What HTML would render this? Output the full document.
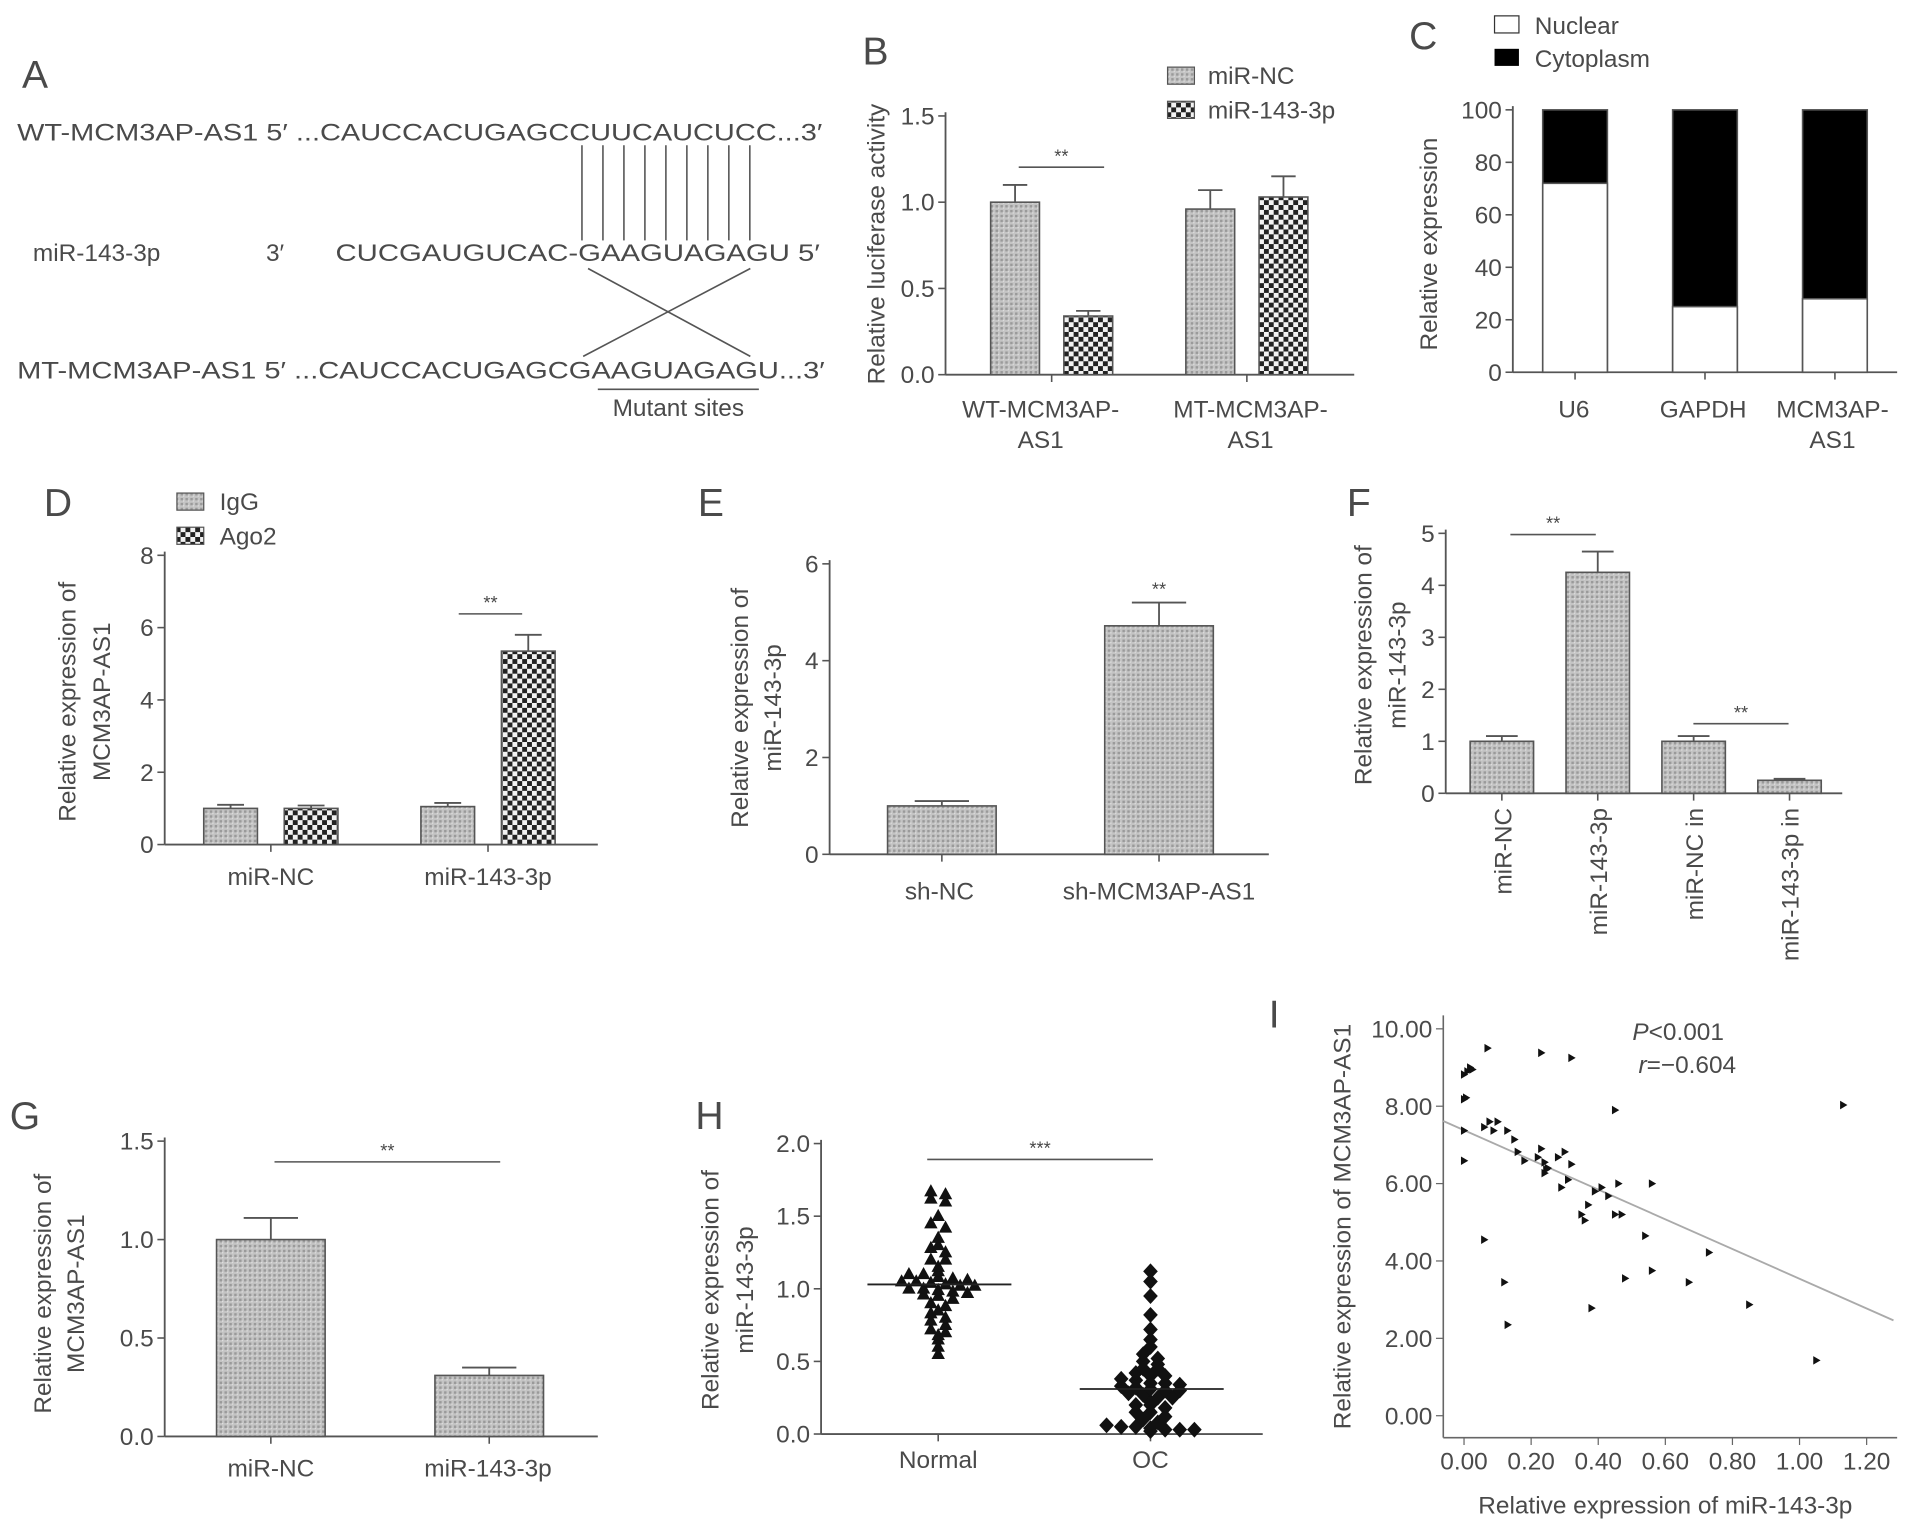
<!DOCTYPE html>
<html><head><meta charset="utf-8"><style>
html,body{margin:0;padding:0;background:#fff;}
svg{display:block;font-family:"Liberation Sans",sans-serif;}
text{fill:#4a4a4a;}
</style></head><body>
<svg id="fig" width="1913" height="1528" viewBox="0 0 1568 1252" preserveAspectRatio="none" xmlns="http://www.w3.org/2000/svg">
<defs>
<pattern id="stip" width="4" height="4" patternUnits="userSpaceOnUse"><rect width="4" height="4" fill="#c4c4c4"/><rect width="2" height="2" fill="#9a9a9a"/><rect x="2" y="2" width="1" height="1" fill="#e0e0e0"/></pattern>
<pattern id="check" width="8" height="8" patternUnits="userSpaceOnUse"><rect width="8" height="8" fill="#f2f2f2"/><rect width="4" height="4" fill="#222"/><rect x="4" y="4" width="4" height="4" fill="#222"/></pattern>
</defs>

<g font-size="20">
<text x="18" y="72" font-size="32">A</text>
<text x="14" y="115" textLength="660" lengthAdjust="spacingAndGlyphs">WT-MCM3AP-AS1 5′ ...CAUCCACUGAGCCUUCAUCUCC...3′</text>
<text x="27" y="214">miR-143-3p</text>
<text x="218" y="214">3′</text>
<text x="275" y="214" textLength="397" lengthAdjust="spacingAndGlyphs">CUCGAUGUCAC-GAAGUAGAGU  5′</text>
<text x="14" y="310" textLength="662" lengthAdjust="spacingAndGlyphs">MT-MCM3AP-AS1 5′ ...CAUCCACUGAGCGAAGUAGAGU...3′</text>
<g id="pairlines" stroke="#555" stroke-width="1.3"></g>
<line x1="482" y1="220" x2="615" y2="292" stroke="#555" stroke-width="1.3"/>
<line x1="615" y1="220" x2="478" y2="292" stroke="#555" stroke-width="1.3"/>
<line x1="490" y1="319" x2="622" y2="319" stroke="#555" stroke-width="1.3"/>
<text x="556" y="341" text-anchor="middle">Mutant sites</text>
</g>
<g id="charts"></g>

<g font-size="20">
<text x="707" y="53" font-size="32">B</text>
<rect x="957" y="55" width="22" height="14" fill="url(#stip)" stroke="#555"/>
<text x="990" y="69">miR-NC</text>
<rect x="957" y="83" width="22" height="14" fill="url(#check)" stroke="#555"/>
<text x="990" y="97">miR-143-3p</text>
<text transform="translate(725,200) rotate(-90)" text-anchor="middle">Relative luciferase activity</text>
<text x="853" y="342" text-anchor="middle">WT-MCM3AP-</text><text x="853" y="367" text-anchor="middle">AS1</text>
<text x="1025" y="342" text-anchor="middle">MT-MCM3AP-</text><text x="1025" y="367" text-anchor="middle">AS1</text>

<text x="1155" y="40" font-size="32">C</text>
<rect x="1225" y="13" width="20" height="14" fill="#fff" stroke="#333"/>
<text x="1258" y="28">Nuclear</text>
<rect x="1225" y="40" width="20" height="14" fill="#000"/>
<text x="1258" y="55">Cytoplasm</text>
<text transform="translate(1178,200) rotate(-90)" text-anchor="middle">Relative expression</text>
<text x="1290" y="342" text-anchor="middle">U6</text><text x="1396" y="342" text-anchor="middle">GAPDH</text>
<text x="1502" y="342" text-anchor="middle">MCM3AP-</text><text x="1502" y="367" text-anchor="middle">AS1</text>

<text x="36" y="423" font-size="32">D</text>
<rect x="145" y="404" width="22" height="14" fill="url(#stip)" stroke="#555"/><text x="180" y="418">IgG</text>
<rect x="145" y="432" width="22" height="14" fill="url(#check)" stroke="#555"/><text x="180" y="446">Ago2</text>
<text transform="translate(62,575) rotate(-90)" text-anchor="middle">Relative expression of</text>
<text transform="translate(90,575) rotate(-90)" text-anchor="middle">MCM3AP-AS1</text>
<text x="222" y="725" text-anchor="middle">miR-NC</text><text x="400" y="725" text-anchor="middle">miR-143-3p</text>

<text x="572" y="423" font-size="32">E</text>
<text transform="translate(613,580) rotate(-90)" text-anchor="middle">Relative expression of</text>
<text transform="translate(640,580) rotate(-90)" text-anchor="middle">miR-143-3p</text>
<text x="770" y="737" text-anchor="middle">sh-NC</text><text x="950" y="737" text-anchor="middle">sh-MCM3AP-AS1</text>

<text x="1104" y="423" font-size="32">F</text>
<text transform="translate(1124,545) rotate(-90)" text-anchor="middle">Relative expression of</text>
<text transform="translate(1152,545) rotate(-90)" text-anchor="middle">miR-143-3p</text>
<text transform="translate(1239,662) rotate(-90)" text-anchor="end">miR-NC</text>
<text transform="translate(1317,662) rotate(-90)" text-anchor="end">miR-143-3p</text>
<text transform="translate(1396,662) rotate(-90)" text-anchor="end">miR-NC in</text>
<text transform="translate(1474,662) rotate(-90)" text-anchor="end">miR-143-3p in</text>

<text x="8" y="925" font-size="32">G</text>
<text transform="translate(42,1060) rotate(-90)" text-anchor="middle">Relative expression of</text>
<text transform="translate(69,1060) rotate(-90)" text-anchor="middle">MCM3AP-AS1</text>
<text x="222" y="1210" text-anchor="middle">miR-NC</text><text x="400" y="1210" text-anchor="middle">miR-143-3p</text>

<text x="570" y="925" font-size="32">H</text>
<text transform="translate(589,1057) rotate(-90)" text-anchor="middle">Relative expression of</text>
<text transform="translate(617,1057) rotate(-90)" text-anchor="middle">miR-143-3p</text>
<text x="769" y="1203" text-anchor="middle">Normal</text><text x="943" y="1203" text-anchor="middle">OC</text>

<text x="1040" y="842" font-size="32">I</text>
<text transform="translate(1107,1005) rotate(-90)" text-anchor="middle">Relative expression of MCM3AP-AS1</text>
<text x="1365" y="1240" text-anchor="middle">Relative expression of miR-143-3p</text>
<text x="1338" y="852"><tspan font-style="italic">P</tspan>&lt;0.001</text>
<text x="1343" y="879"><tspan font-style="italic">r</tspan>=−0.604</text>
</g>
</svg>
<script>
const bCats = ['WT-MCM3AP-AS1','MT-MCM3AP-AS1'];
const bNC = [1.0, 0.96], bNCerr = [0.10, 0.11];
const b143 = [0.34, 1.03], b143err = [0.03, 0.12];
const bTicks = [0, 0.5, 1.0, 1.5];
const cCats = ['U6','GAPDH','MCM3AP-AS1'];
const cNuclear = [72, 25, 28];
const cTicks = [0, 20, 40, 60, 80, 100];
const dCats = ['miR-NC','miR-143-3p'];
const dIgG = [1.0, 1.05], dIgGerr = [0.1, 0.1];
const dAgo2 = [1.0, 5.35], dAgo2err = [0.08, 0.45];
const dTicks = [0, 2, 4, 6, 8];
const eCats = ['sh-NC','sh-MCM3AP-AS1'];
const eVals = [1.0, 4.72], eErr = [0.1, 0.48];
const eTicks = [0, 2, 4, 6];
const fCats = ['miR-NC','miR-143-3p','miR-NC in','miR-143-3p in'];
const fVals = [1.0, 4.25, 1.0, 0.25], fErr = [0.1, 0.4, 0.1, 0.03];
const fTicks = [0, 1, 2, 3, 4, 5];
const gCats = ['miR-NC','miR-143-3p'];
const gVals = [1.0, 0.31], gErr = [0.11, 0.04];
const gTicks = ['0.0','0.5','1.0','1.5'];
const hNormal = [1.67,1.65,1.62,1.6,1.5,1.45,1.42,1.35,1.3,1.28,1.25,1.2,1.2,1.15,1.12,1.1,1.1,1.08,1.07,1.06,1.05,1.05,1.04,1.03,1.02,1.02,1.0,1.0,0.99,0.98,0.97,0.96,0.95,0.93,0.9,0.88,0.85,0.83,0.8,0.78,0.75,0.72,0.7,0.68,0.65,0.6,0.55];
const hOC = [1.12,1.05,0.95,0.82,0.72,0.65,0.6,0.55,0.52,0.5,0.48,0.45,0.45,0.42,0.4,0.4,0.38,0.37,0.35,0.35,0.34,0.33,0.32,0.31,0.3,0.3,0.28,0.27,0.25,0.25,0.22,0.2,0.2,0.18,0.15,0.15,0.12,0.1,0.08,0.06,0.05,0.05,0.04,0.03,0.03,0.03,0.02];
const hMeans = [1.03, 0.31];
const hTicks = ['0.0','0.5','1.0','1.5','2.0'];
const iX = [0,0.01,0.018,0.025,0.07,0,0.006,0,0,0.06,0.076,0.088,0.1,0.129,0.15,0.16,0.18,0.22,0.23,0.24,0.245,0.25,0.24,0.28,0.3,0.32,0.31,0.29,0.23,0.32,0.39,0.41,0.37,0.35,0.36,0.43,0.45,0.47,0.46,0.45,0.56,0.54,0.56,0.48,0.38,0.06,0.12,0.13,0.67,0.73,0.85,1.05,1.13];
const iY = [8.82,8.9,9.0,8.95,9.5,8.18,8.22,7.37,6.59,7.46,7.6,7.37,7.6,7.37,7.14,6.82,6.59,6.68,6.9,6.55,6.36,6.4,6.27,6.68,6.82,6.5,6.1,5.9,9.38,9.25,5.8,5.9,5.45,5.2,5.05,5.68,5.2,5.2,6.0,7.9,6.0,4.65,3.75,3.55,2.78,4.55,3.45,2.35,3.45,4.22,2.87,1.43,8.03];
const iFit = [7.38, -3.84];
const iXTicks = ['0.00','0.20','0.40','0.60','0.80','1.00','1.20'];
const iYTicks = ['0.00','2.00','4.00','6.00','8.00','10.00'];

const NS='http://www.w3.org/2000/svg';
const root=document.getElementById('charts');
function mk(tag,attrs,parent){const e=document.createElementNS(NS,tag);for(const k in attrs)e.setAttribute(k,attrs[k]);(parent||root).appendChild(e);return e;}
const pl=document.getElementById('pairlines');
for(let i=0;i<9;i++){mk('line',{x1:477+i*17.2,y1:119,x2:477+i*17.2,y2:197},pl);}

function axes(o){
  const g=mk('g',{});
  
  
  mk('line',{x1:o.x0,y1:o.yb,x2:o.x0,y2:o.yt-3,stroke:'#555','stroke-width':1.5},g);
  mk('line',{x1:o.x0,y1:o.yb,x2:o.xEnd,y2:o.yb,stroke:'#555','stroke-width':1.5},g);
  o.ticks.forEach(t=>{const y=o.ys(parseFloat(t));
    mk('line',{x1:o.x0-6,y1:y,x2:o.x0,y2:y,stroke:'#555','stroke-width':1.3},g);
    const tx=mk('text',{x:o.x0-9,y:y+7,'text-anchor':'end','font-size':20},g);tx.textContent=t;});
  return g;
}
function yS(yb,yt,vmax){return v=>yb-v/vmax*(yb-yt);}
function bar(cx,w,v,err,ys,fill,name){
  const g=mk('g',{});
  
  
  const y=ys(v),y0=ys(0);
  if(err!=null){const ye=ys(v+err);
    mk('line',{x1:cx,y1:y,x2:cx,y2:ye,stroke:'#555','stroke-width':1.5},g);
    mk('line',{x1:cx-w/4,y1:ye,x2:cx+w/4,y2:ye,stroke:'#555','stroke-width':1.5},g);}
  mk('rect',{x:cx-w/2,y:y,width:w,height:y0-y,fill:fill,stroke:'#555','stroke-width':1.3},g);
  return g;
}
function sig(x1,x2,y,label){
  mk('line',{x1:x1,y1:y,x2:x2,y2:y,stroke:'#555','stroke-width':1.3});
  const t=mk('text',{x:(x1+x2)/2,y:y-4,'text-anchor':'middle','font-size':15});t.textContent=label;
}
function tickX(x,yb){mk('line',{x1:x,y1:yb,x2:x,y2:yb+6,stroke:'#555','stroke-width':1.3});}

{const ys=yS(307,95,1.5);axes({x0:775,yb:307,yt:95,ys,ticks:bTicks.map(v=>v.toFixed(1)),xEnd:1110,name:'chart-b'});
 bCats.forEach((c,i)=>{const gc=862+i*160;
  bar(gc-30,40,bNC[i],bNCerr[i],ys,'url(#stip)','bar-b-nc-'+i);
  bar(gc+30,40,b143[i],b143err[i],ys,'url(#check)','bar-b-143-'+i);tickX(gc,307);});
 sig(835,905,137,'**');}
{const ys=yS(305,90,100);axes({x0:1240,yb:305,yt:90,ys,ticks:cTicks.map(String),xEnd:1555,name:'chart-c'});
 cCats.forEach((c,i)=>{const cx=1291+i*106.5;
  bar(cx,53,100,null,ys,'#000','bar-c-cyto-'+i);
  bar(cx,53,cNuclear[i],null,ys,'#fff','bar-c-nuclear-'+i);tickX(cx,305);});}
{const ys=yS(692,455,8);axes({x0:135,yb:692,yt:455,ys,ticks:dTicks.map(String),xEnd:490,name:'chart-d'});
 dCats.forEach((c,i)=>{const gc=222+i*178;
  bar(gc-33,44,dIgG[i],dIgGerr[i],ys,'url(#stip)','bar-d-igg-'+i);
  bar(gc+33,44,dAgo2[i],dAgo2err[i],ys,'url(#check)','bar-d-ago2-'+i);tickX(gc,692);});
 sig(376,428,503,'**');}
{const ys=yS(700,462,6);axes({x0:680,yb:700,yt:462,ys,ticks:eTicks.map(String),xEnd:1040,name:'chart-e'});
 eCats.forEach((c,i)=>{const cx=772+i*178;bar(cx,89,eVals[i],eErr[i],ys,'url(#stip)','bar-e-'+i);tickX(cx,700);});
 const t=mk('text',{x:950,y:488,'text-anchor':'middle','font-size':15});t.textContent='**';}
{const ys=yS(650,437,5);axes({x0:1185,yb:650,yt:437,ys,ticks:fTicks.map(String),xEnd:1510,name:'chart-f'});
 fCats.forEach((c,i)=>{const cx=1231+i*78.6;bar(cx,52,fVals[i],fErr[i],ys,'url(#stip)','bar-f-'+i);tickX(cx,650);});
 sig(1238,1308,438,'**');sig(1388,1466,593,'**');}
{const ys=yS(1177,935,1.5);axes({x0:135,yb:1177,yt:935,ys,ticks:gTicks,xEnd:490,name:'chart-g'});
 gCats.forEach((c,i)=>{const cx=222+i*179;bar(cx,89,gVals[i],gErr[i],ys,'url(#stip)','bar-g-'+i);tickX(cx,1177);});
 sig(225,410,952,'**');}
{const ys=yS(1175,937,2.0);axes({x0:673,yb:1175,yt:937,ys,ticks:hTicks,xEnd:1035,name:'chart-h'});
 [hNormal,hOC].forEach((arr,gi)=>{const cx=769+gi*174;tickX(cx,1175);
  const bins={};arr.forEach(v=>{const b=Math.round(v/0.045);(bins[b]=bins[b]||[]).push(v);});
  Object.values(bins).forEach(list=>{list.forEach((v,k)=>{const x=cx+(k-(list.length-1)/2)*12,y=ys(v);
    let m;
    if(gi===0)m=mk('path',{d:`M${x} ${y-6}L${x+5.5} ${y+4}L${x-5.5} ${y+4}Z`,fill:'#111'});
    else m=mk('path',{d:`M${x} ${y-6.5}L${x+6} ${y}L${x} ${y+6.5}L${x-6} ${y}Z`,fill:'#111'});
    
    });});
  const ym=ys(hMeans[gi]);mk('line',{x1:cx-58,y1:ym,x2:cx+60,y2:ym,stroke:'#222','stroke-width':1.5});});
 sig(760,945,950,'***');}
{const xs=v=>1200+v/0.2*55, ys=v=>1160-v/10*317;
 mk('line',{x1:1183,y1:832,x2:1183,y2:1178,stroke:'#666','stroke-width':1.3});
 mk('line',{x1:1183,y1:1178,x2:1555,y2:1178,stroke:'#666','stroke-width':1.3});
 iYTicks.forEach(t=>{const y=ys(parseFloat(t));mk('line',{x1:1177,y1:y,x2:1183,y2:y,stroke:'#666'});
  const tx=mk('text',{x:1174,y:y+7,'text-anchor':'end','font-size':20});tx.textContent=t;});
 iXTicks.forEach(t=>{const x=xs(parseFloat(t));mk('line',{x1:x,y1:1178,x2:x,y2:1184,stroke:'#666'});
  const tx=mk('text',{x:x,y:1204,'text-anchor':'middle','font-size':20});tx.textContent=t;});
 const xa=-0.062,xb=1.28;
 const fit=mk('line',{x1:xs(xa),y1:ys(iFit[0]+iFit[1]*xa),x2:xs(xb),y2:ys(iFit[0]+iFit[1]*xb),stroke:'#aaa','stroke-width':1.5});
 
 
 iX.forEach((v,i)=>{const x=xs(v),y=ys(iY[i]);
  const p=mk('path',{d:`M${x-2.5} ${y-3.5}L${x+3.5} ${y}L${x-2.5} ${y+3.5}Z`,fill:'#111'});
  
  });}
</script>
</body></html>
